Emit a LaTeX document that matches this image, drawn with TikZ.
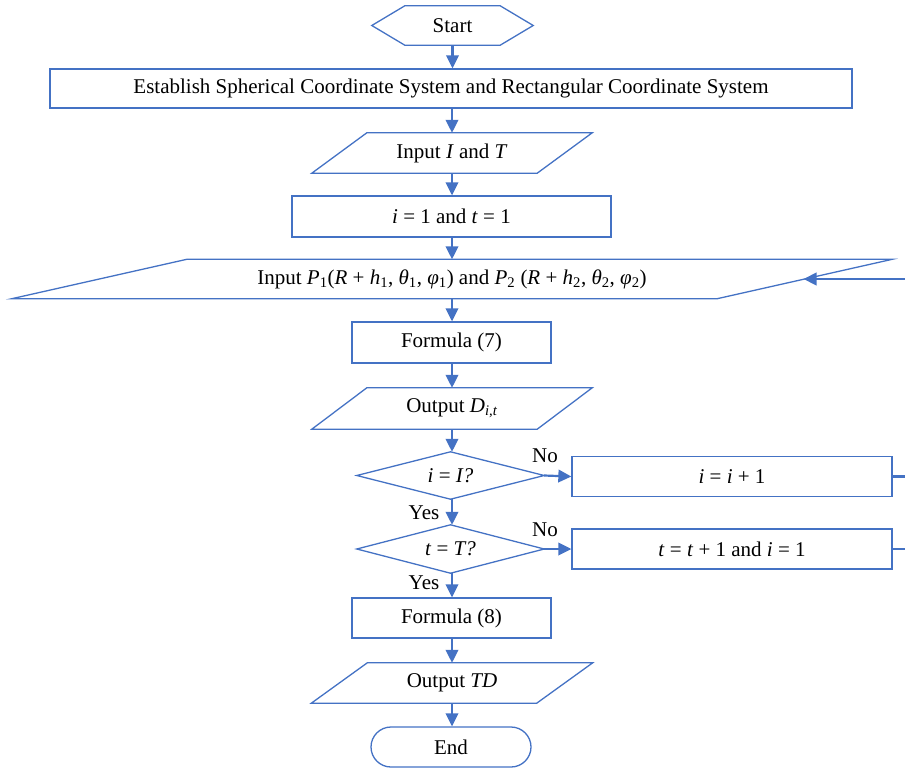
\documentclass[tikz,border=0pt]{standalone}
\usepackage{fontspec}
\setmainfont{Liberation Serif}
\usetikzlibrary{arrows.meta}
\definecolor{fblue}{RGB}{68,114,196}
\newcommand{\lo}[1]{\textsubscript{#1}}
\begin{document}
\begin{tikzpicture}[x=1pt,y=-1pt,
  font=\fontsize{21}{25}\selectfont,
  shapeline/.style={draw=fblue,line width=1.3pt},
  box/.style={shapeline,inner sep=0pt,minimum height=#1},
  box/.default=40pt,
  ghost/.style={inner sep=0pt},
  flow/.style={draw=fblue,line width=2.2pt,-{Triangle[length=13pt,width=12.5pt]}},
  loopline/.style={draw=fblue,line width=2.2pt},
  lbl/.style={inner sep=0pt}]
\useasboundingbox (0,0) rectangle (905,769);

% Start hexagon
\node[ghost,minimum width=161pt,minimum height=39pt] (start) at (452.5,25.5) {Start};
\draw[shapeline] (start.west) -- ([xshift=33pt]start.north west) -- ([xshift=-33pt]start.north east)
  -- (start.east) -- ([xshift=-33pt]start.south east) -- ([xshift=33pt]start.south west) -- cycle;

% Establish
\node[box=39pt,minimum width=802pt] (est) at (451,88.5) {Establish Spherical Coordinate System and Rectangular Coordinate System};

% Input I and T
\node[ghost,minimum width=280pt,minimum height=40pt] (inIT) at (452,153) {Input \textit{I} and \textit{T}};
\draw[shapeline] ([xshift=55pt]inIT.north west) -- (inIT.north east) -- ([xshift=-55pt]inIT.south east) -- (inIT.south west) -- cycle;

% i=1 and t=1
\node[box=41pt,minimum width=319pt] (init) at (451.5,216.5) {\textit{i} = 1 and \textit{t} = 1};

% Input P1 P2
\node[ghost,minimum width=880pt,minimum height=39pt] (inP) at (452,279) {Input \textit{P}\lo{1}(\textit{R} + \textit{h}\lo{1}, \textit{θ}\lo{1}, \textit{φ}\lo{1}) and \textit{P}\lo{2} (\textit{R} + \textit{h}\lo{2}, \textit{θ}\lo{2}, \textit{φ}\lo{2})};
\draw[shapeline] ([xshift=175pt]inP.north west) -- (inP.north east) -- ([xshift=-175pt]inP.south east) -- (inP.south west) -- cycle;

% Formula 7
\node[box=41pt,minimum width=199pt] (f7) at (451.5,342.5) {Formula (7)};

% Output D
\node[ghost,minimum width=280pt,minimum height=41pt] (outD) at (452,408.5) {Output \textit{D}\lo{\textit{i},\textit{t}}};
\draw[shapeline] ([xshift=55pt]outD.north west) -- (outD.north east) -- ([xshift=-55pt]outD.south east) -- (outD.south west) -- cycle;

% Decision i = I?
\node[ghost,minimum width=187pt,minimum height=47pt] (d1) at (450.5,475.5) {\textit{i} = \textit{I?}};
\draw[shapeline] (d1.west) -- (d1.north) -- (d1.east) -- (d1.south) -- cycle;

% Decision t = T?
\node[ghost,minimum width=187pt,minimum height=48pt] (d2) at (450.5,549) {\textit{t} = \textit{T?}};
\draw[shapeline] (d2.west) -- (d2.north) -- (d2.east) -- (d2.south) -- cycle;

% i = i + 1
\node[box=40pt,minimum width=320pt] (inc1) at (732,476.5) {\textit{i} = \textit{i} + 1};
% t = t + 1 and i = 1
\node[box=40pt,minimum width=320pt] (inc2) at (732,549) {\textit{t} = \textit{t} + 1 and \textit{i} = 1};

% Formula 8
\node[box=40pt,minimum width=199pt] (f8) at (451.5,618) {Formula (8)};

% Output TD
\node[ghost,minimum width=281pt,minimum height=40pt] (outTD) at (452,683) {Output \textit{TD}};
\draw[shapeline] ([xshift=56pt]outTD.north west) -- (outTD.north east) -- ([xshift=-56pt]outTD.south east) -- (outTD.south west) -- cycle;

% End
\node[shapeline,rounded corners=20pt,inner sep=0pt,minimum width=160pt,minimum height=40pt] (endn) at (451,747) {End};

% connectors
\draw[flow] (start.south) -- (est.north -| start.south);
\draw[flow] (est.south -| inIT.north) -- (inIT.north);
\draw[flow] (inIT.south) -- (init.north -| inIT.south);
\draw[flow] (init.south -| inP.north) -- (inP.north);
\draw[flow] (inP.south) -- (f7.north -| inP.south);
\draw[flow] (f7.south -| outD.north) -- (outD.north);
\draw[flow] (outD.south) -- (d1.north -| outD.south);
\draw[flow] (d1.south -| outD.south) -- (d2.north -| outD.south);
\draw[flow] (d2.south -| outD.south) -- (f8.north -| outD.south);
\draw[flow] (f8.south -| outD.south) -- (outTD.north);
\draw[flow] (outTD.south) -- (endn.north -| outTD.south);
\draw[flow] (d1.east) -- (inc1.west);
\draw[flow] (d2.east) -- (inc2.west);

% loop-back stubs
\coordinate (r1) at (905,476.5);
\coordinate (r2) at (905,549);
\coordinate (rin) at (905,279);
\coordinate (pin) at (803.5,279);
\draw[loopline] (inc1.east) -- (r1);
\draw[loopline] (inc2.east) -- (r2);
\draw[flow] (rin) -- (pin);

% labels
\node[lbl] (no1) at (545,456) {No};
\node[lbl] (no2) at (545,530) {No};
\node[lbl] (yes1) at (424,513) {Yes};
\node[lbl] (yes2) at (424,583) {Yes};
\end{tikzpicture}
\end{document}
